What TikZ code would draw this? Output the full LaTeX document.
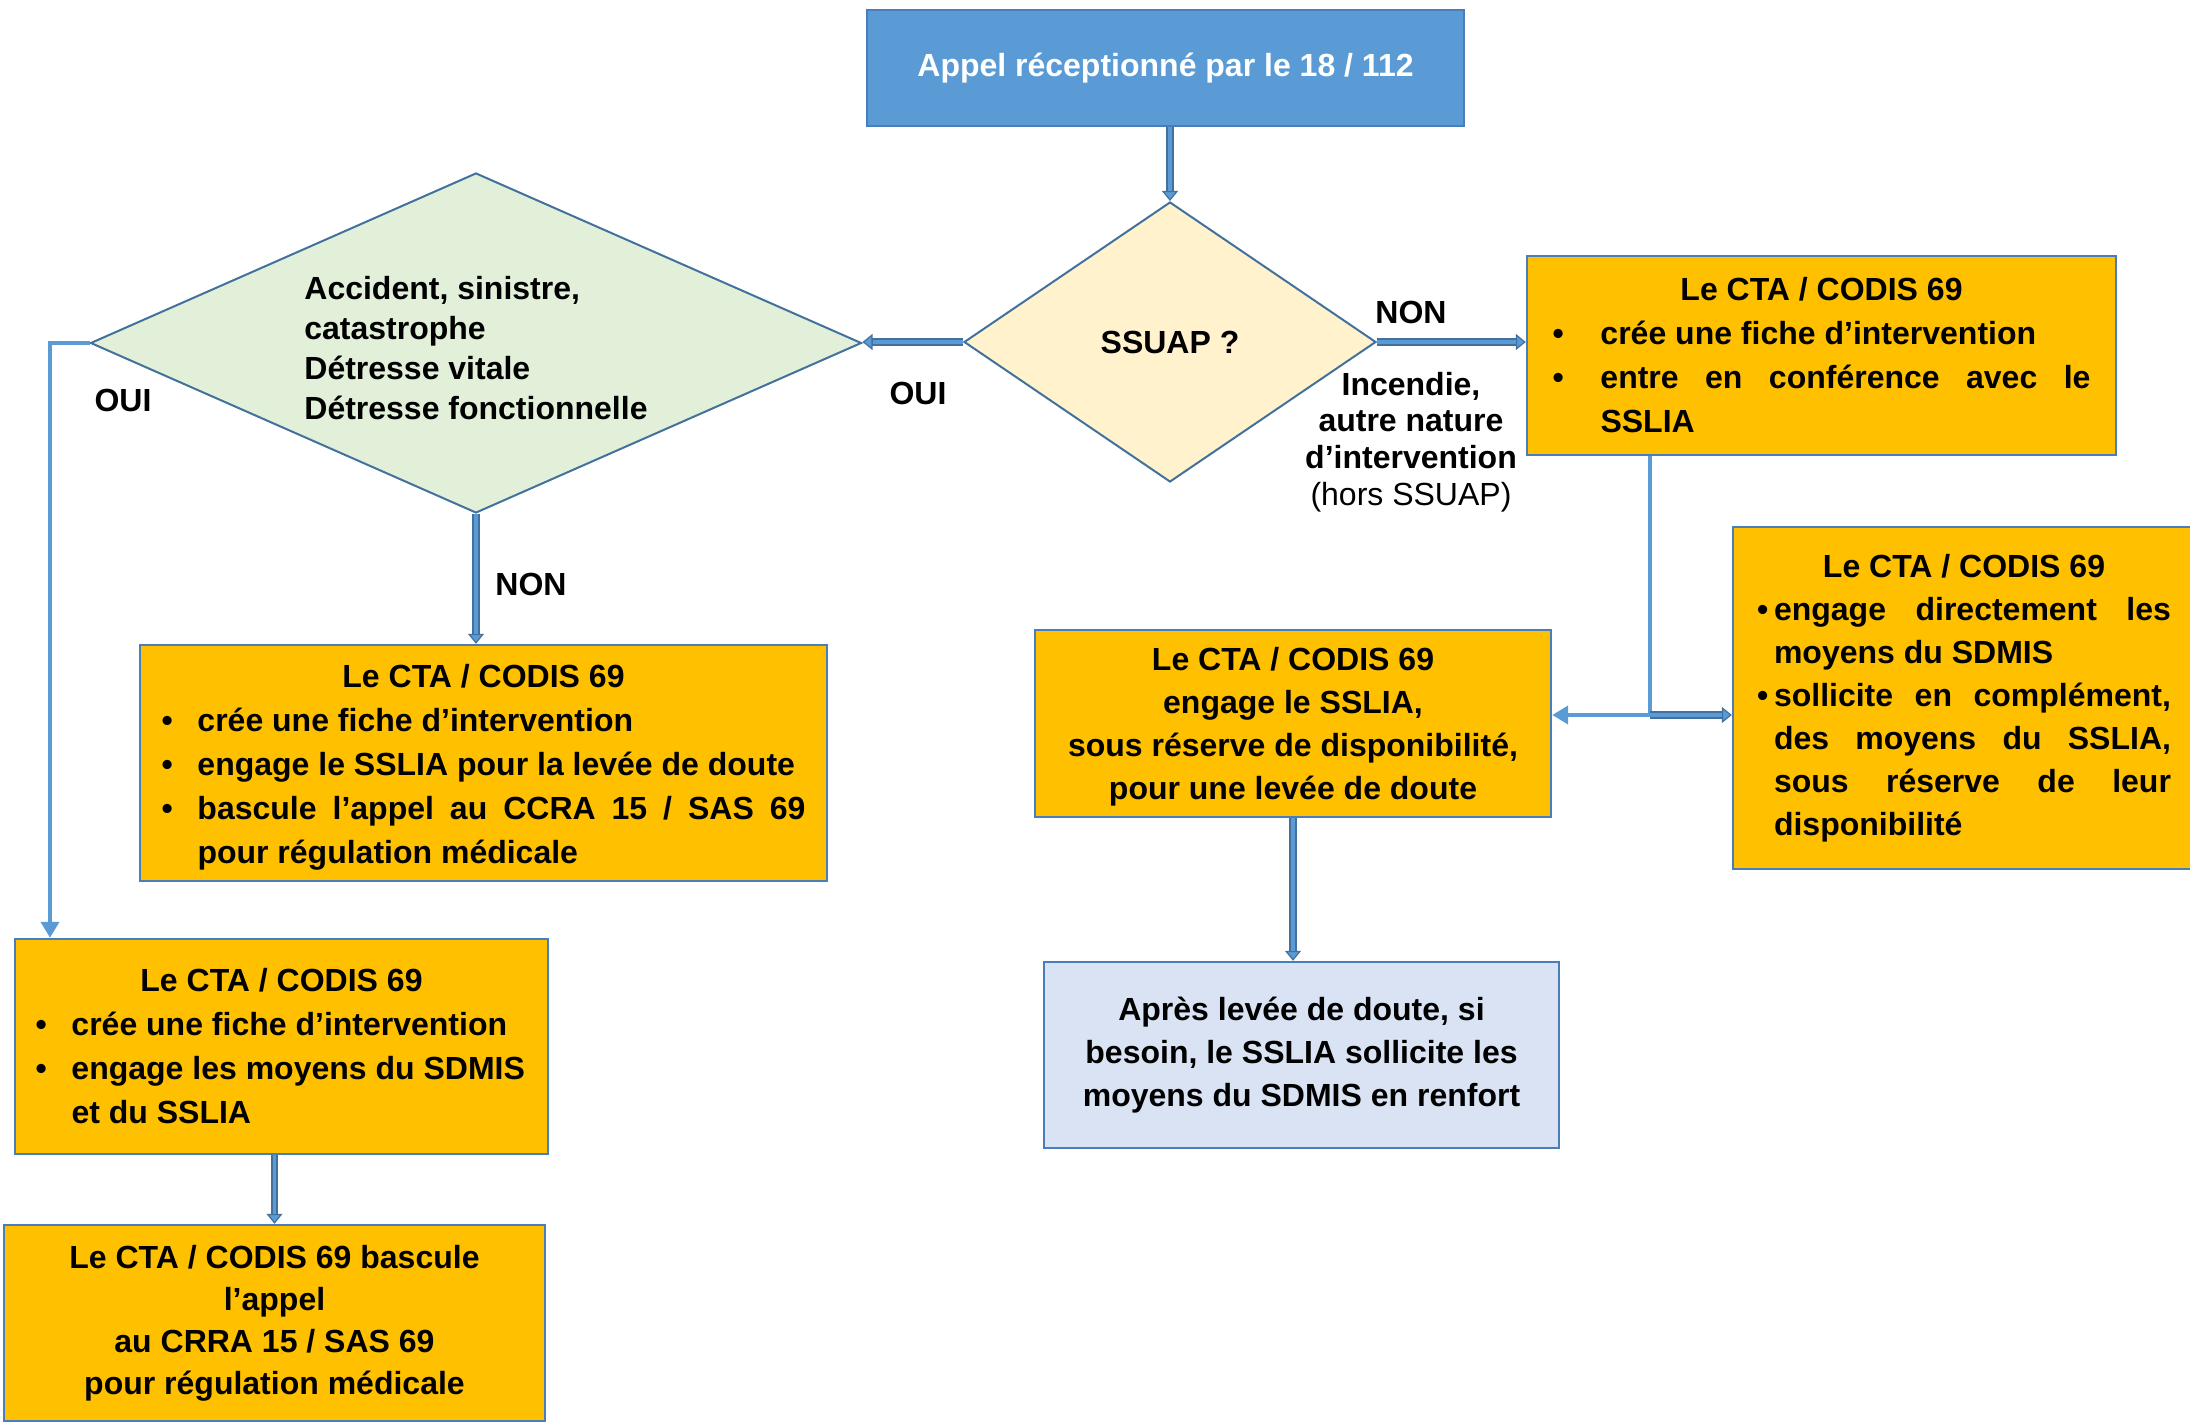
\documentclass[tikz,border=0pt]{standalone}
\usepackage{fontspec}
\setmainfont{Liberation Sans}
\usetikzlibrary{shapes.geometric,arrows.meta,calc}
\definecolor{bfill}{HTML}{5B9BD5}
\definecolor{bdark}{HTML}{41719C}
\definecolor{bline}{HTML}{4A7EBB}
\definecolor{orng}{HTML}{FFC000}
\definecolor{ylw}{HTML}{FFF2CC}
\definecolor{grn}{HTML}{E2F0D9}
\definecolor{lblue}{HTML}{DAE3F3}
\newcommand\bul[2]{\par\noindent\hangindent=#1\hangafter=1\makebox[#1][l]{•}#2\par}
\tikzset{
  box/.style={draw=bline, line width=1.2pt, inner sep=0pt, font=\bfseries\fontsize{16}{22}\selectfont},
  obox/.style={box, fill=orng},
  dec/.style={diamond, draw=bdark, line width=1pt, inner sep=0pt, font=\bfseries\fontsize{16}{20}\selectfont},
  conn/.style={draw=bdark, line width=3.6pt, -{Triangle[length=5pt,width=8pt,line width=0.6pt,fill=bfill]},
    postaction={draw=bfill, line width=1.8pt, -, shorten >=5pt}},
  lconn/.style={draw=bfill, line width=2.2pt, -{Triangle[length=8pt,width=9pt]}},
  lab/.style={font=\bfseries\fontsize{16}{20}\selectfont, inner sep=0pt}
}
\begin{document}
\begin{tikzpicture}[x=0.5pt,y=-0.5pt]
\useasboundingbox (0,0) rectangle (2190,1423);
% boxes
\node[box, fill=bfill, text=white, minimum width=298.5pt, minimum height=58pt] (top) at (1165.5,68) {Appel réceptionné par le 18 / 112};
\node[dec, fill=ylw, minimum width=206pt, minimum height=140pt, aspect=1.47] (ss) at (1170,342) {SSUAP ?};
\node[dec, fill=grn, minimum width=385.5pt, minimum height=170pt, aspect=2.27, align=left] (acc) at (476,343)
  {\rule{0pt}{16.5pt}Accident, sinistre,\\catastrophe\\Détresse vitale\\Détresse fonctionnelle};
\node[obox, minimum width=294.5pt, minimum height=99.5pt] (rt) at (1821.5,355.5) {\parbox{269pt}{{\centering Le CTA / CODIS 69\par}%
  \bul{24pt}{crée une fiche d’intervention}%
  \bul{24pt}{entre en conférence avec le\linebreak SSLIA}}};
\node[obox, minimum width=231pt, minimum height=171pt, font=\bfseries\fontsize{16}{21.5}\selectfont] (rb) at (1964,698) {\parbox{207pt}{{\centering Le CTA / CODIS 69\par}%
  \bul{8.5pt}{engage directement les\linebreak moyens du SDMIS}%
  \bul{8.5pt}{sollicite en complément,\linebreak des moyens du SSLIA,\linebreak sous réserve de leur\linebreak disponibilité}}};
\node[obox, minimum width=343.5pt, minimum height=118pt] (lm) at (483.5,763) {\parbox{322pt}{\vspace*{4pt}{\centering Le CTA / CODIS 69\par}%
  \bul{18pt}{crée une fiche d’intervention}%
  \bul{18pt}{engage le SSLIA pour la levée de doute}%
  \bul{18pt}{bascule l’appel au CCRA 15 / SAS 69\linebreak pour régulation médicale}}};
\node[obox, minimum width=266.5pt, minimum height=107.5pt] (lb) at (281.5,1046.5) {\parbox{246pt}{{\centering Le CTA / CODIS 69\par}%
  \bul{18pt}{crée une fiche d’intervention}%
  \bul{18pt}{engage les moyens du SDMIS\newline et du SSLIA}}};
\node[obox, minimum width=258pt, minimum height=93.5pt, align=center, font=\bfseries\fontsize{16}{21.5}\selectfont] (mid) at (1293,723.5)
  {\rule{0pt}{14.5pt}Le CTA / CODIS 69\\engage le SSLIA,\\sous réserve de disponibilité,\\pour une levée de doute};
\node[box, fill=lblue, minimum width=257.5pt, minimum height=93pt, align=center, font=\bfseries\fontsize{16}{21.5}\selectfont] (blu) at (1301.5,1055)
  {Après levée de doute, si\\besoin, le SSLIA sollicite les\\moyens du SDMIS en renfort};
\node[obox, minimum width=270.5pt, minimum height=98pt, align=center, font=\bfseries\fontsize{16}{21}\selectfont] (last) at (274.5,1323)
  {Le CTA / CODIS 69 bascule\\l’appel\\au CRRA 15 / SAS 69\\pour régulation médicale};
% labels
\node[lab] (oui1) at (918,393) {OUI};
\node[lab] (non1) at (1411,312) {NON};
\node[lab, align=center, font=\bfseries\fontsize{16}{18.3}\selectfont] (inc) at (1411,442)
  {Incendie,\\autre nature\\d’intervention\\{\mdseries (hors SSUAP)}};
\node[lab] (oui2) at (123,400) {OUI};
\node[lab] (non2) at (531,584) {NON};
% connectors
\draw[conn] (top.south -| ss.north) -- (ss.north);
\draw[conn] (ss.west) -- (acc.east |- ss.west);
\draw[conn] (ss.east) -- (rt.west |- ss.east);
\draw[conn] (acc.south) -- (acc.south |- lm.north);
\coordinate (ouiC) at (50,343);
\draw[lconn] (acc.west) -- (ouiC) -- (ouiC |- lb.north);
\coordinate (spl) at (1650,715);
\draw[lconn] (rt.south -| spl) -- (spl) -- (spl -| mid.east);
\draw[conn] (spl) -- (spl -| rb.west);
\draw[conn] (mid.south) -- (mid.south |- blu.north);
\draw[conn] (lb.south -| last.north) -- (last.north);
\end{tikzpicture}
\end{document}
